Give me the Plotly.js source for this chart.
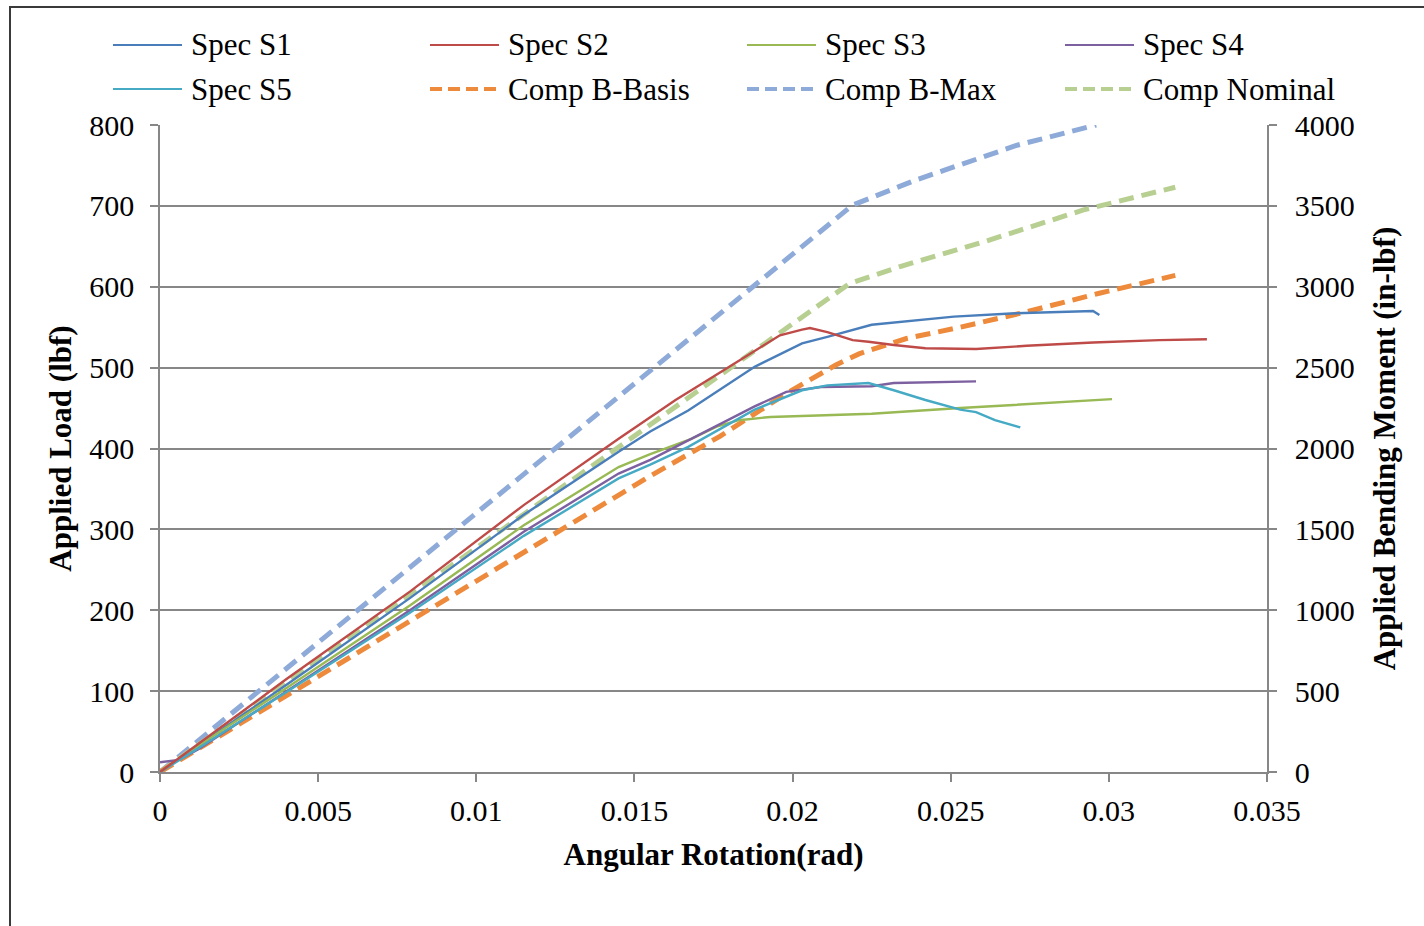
<!DOCTYPE html>
<html>
<head>
<meta charset="utf-8">
<script src="https://cdn.plot.ly/plotly-3.0.1.min.js"></script>
<style>
  html, body { margin: 0; padding: 0; background: #fff; overflow: hidden; }
  #chart { width: 1424px; height: 926px; }
  #frame { position: absolute; left: 9px; top: 6px; width: 3000px; height: 3000px;
           border-left: 2px solid #3a3a3a; border-top: 2px solid #3a3a3a; pointer-events: none; }
</style>
</head>
<body>
<div id="chart"></div>
<div id="frame"></div>
<script>
// ---- Data ----
const seriesNames = ["Spec S1", "Spec S2", "Spec S3", "Spec S4", "Spec S5", "Comp B-Basis", "Comp B-Max", "Comp Nominal"];

const s1X = [0, 0.001, 0.004, 0.0079, 0.0115, 0.0145, 0.0155, 0.0167, 0.0188, 0.0203, 0.0211, 0.0225, 0.0251, 0.0269, 0.0285, 0.0295, 0.0297];
const s1Y = [0, 27, 108, 215, 318, 396, 421, 447, 501, 530, 538, 553, 563, 567, 569, 570, 565];

const s2X = [0, 0.001, 0.004, 0.0079, 0.0115, 0.0145, 0.0155, 0.0163, 0.018, 0.0196, 0.0203, 0.02055, 0.0211, 0.0219, 0.0224, 0.0232, 0.0242, 0.0258, 0.0274, 0.0295, 0.0316, 0.0331];
const s2Y = [0, 29, 115, 223, 330, 412, 439, 460, 501, 540, 547, 549, 544, 534, 532, 528, 524, 523, 527, 531, 534, 535];

const s3X = [0, 0.001, 0.004, 0.0079, 0.0115, 0.0145, 0.0155, 0.0168, 0.0176, 0.0183, 0.0193, 0.0225, 0.0253, 0.0274, 0.0301];
const s3Y = [0, 27, 104, 206, 305, 377, 393, 412, 427, 435, 439, 443, 450, 455, 461];

const s4X = [0, 0.0006, 0.0012, 0.004, 0.0079, 0.0115, 0.0145, 0.0155, 0.0167, 0.0188, 0.0198, 0.0209, 0.0225, 0.0232, 0.0258];
const s4Y = [12, 15, 28, 100, 200, 297, 369, 386, 410, 452, 470, 476, 477, 481, 483];

const s5X = [0, 0.001, 0.004, 0.0079, 0.0115, 0.0145, 0.0155, 0.0167, 0.0188, 0.0203, 0.0211, 0.0224, 0.0232, 0.0242, 0.0253, 0.0258, 0.0264, 0.0272];
const s5Y = [0, 24, 99, 197, 292, 363, 380, 402, 448, 472, 478, 481, 472, 460, 448, 445, 435, 426];

const bBasisX = [0, 0.005, 0.01, 0.0155, 0.0177, 0.0198, 0.0214, 0.0221, 0.0228, 0.0236, 0.0253, 0.0274, 0.0297, 0.0321];
const bBasisY = [0, 118, 237, 366, 415, 468, 504, 517, 526, 536, 550, 569, 592, 614];

const bMaxX = [0, 0.0187, 0.0219, 0.0239, 0.0271, 0.0296];
const bMaxY = [0, 600, 701, 732, 775, 800];

const nominalX = [0, 0.0204, 0.0218, 0.0234, 0.026, 0.0292, 0.0321];
const nominalY = [0, 565, 604, 625, 655, 695, 723];

const xTickVals = [0, 0.005, 0.01, 0.015, 0.02, 0.025, 0.03, 0.035];
const xTickLabels = ["0", "0.005", "0.01", "0.015", "0.02", "0.025", "0.03", "0.035"];
const loadTicks = [0, 100, 200, 300, 400, 500, 600, 700, 800];
const momentTicks = [0, 500, 1000, 1500, 2000, 2500, 3000, 3500, 4000];

// ---- Styles ----
const colors = ["#4A7EBB", "#BE4B48", "#98B954", "#7D60A0", "#46AAC5", "#EE8A3C", "#8EAAD8", "#B8CF92"];
const dashed = [false, false, false, false, false, true, true, true];
const xs = [s1X, s2X, s3X, s4X, s5X, bBasisX, bMaxX, nominalX];
const ys = [s1Y, s2Y, s3Y, s4Y, s5Y, bBasisY, bMaxY, nominalY];

const FONT = "Liberation Serif, Times New Roman, serif";
const GRID = "#878787";

// draw order: comp lines beneath specimen lines
const order = [6, 7, 5, 0, 2, 3, 4, 1];
const traces = order.map(i => ({
  x: xs[i], y: ys[i], name: seriesNames[i], type: "scatter", mode: "lines",
  line: dashed[i] ? {color: colors[i], width: 5, dash: "15px,8px"} : {color: colors[i], width: 2.4},
  showlegend: false, hoverinfo: "x+y+name"
}));
// anchor trace for the secondary (moment) axis
traces.push({x: [null], y: [null], yaxis: "y2", showlegend: false, hoverinfo: "skip", mode: "lines"});

// ---- Legend built by hand (2 rows x 4 columns) ----
const L = 160, R = 1267, T = 125, B = 772;
const pxX = p => (p - L) / (R - L);
const pxY = p => (B - p) / (B - T);
const colText = [189, 506, 823, 1141];
const rowY = [45, 89];
const shapes = [], annotations = [];
seriesNames.forEach((name, i) => {
  const r = Math.floor(i / 4), c = i % 4;
  const tx = colText[c], ty = rowY[r];
  shapes.push({
    type: "line", xref: "paper", yref: "paper",
    x0: pxX(tx - 76), x1: pxX(tx - 7), y0: pxY(ty), y1: pxY(ty),
    line: dashed[i] ? {color: colors[i], width: 4, dash: "12px,6px"} : {color: colors[i], width: 2}
  });
  annotations.push({
    text: name, xref: "paper", yref: "paper", x: pxX(tx), y: pxY(ty),
    xanchor: "left", yanchor: "middle", showarrow: false,
    font: {family: FONT, size: 31, color: "#000"}
  });
});

const tickFont = {family: FONT, size: 30, color: "#000"};
const titleFont = {family: FONT, size: 31, color: "#000", weight: "bold"};

const layout = {
  width: 1424, height: 926,
  margin: {l: L, r: 1424 - R, t: T, b: 926 - B, pad: 0},
  paper_bgcolor: "#fff", plot_bgcolor: "#fff",
  showlegend: false,
  xaxis: {
    range: [0, 0.035], tickvals: xTickVals, ticktext: xTickLabels,
    showgrid: false, zeroline: false, showline: true, linecolor: GRID, linewidth: 1.5,
    ticks: "outside", ticklen: 8, tickcolor: GRID, tickwidth: 1.5, tickfont: tickFont,
    ticklabelstandoff: 3,
    title: {text: "Angular Rotation(rad)", font: titleFont, standoff: 18}
  },
  yaxis: {
    range: [0, 800], tickvals: loadTicks, ticktext: loadTicks.map(String),
    showgrid: true, gridcolor: GRID, gridwidth: 1.5, zeroline: false,
    showline: true, linecolor: GRID, linewidth: 1.5,
    ticks: "outside", ticklen: 8, tickcolor: GRID, tickwidth: 1.5, tickfont: tickFont,
    ticklabelstandoff: 10,
    title: {text: "Applied Load (lbf)", font: titleFont, standoff: 8}
  },
  yaxis2: {
    range: [0, 4000], tickvals: momentTicks, ticktext: momentTicks.map(String),
    overlaying: "y", side: "right", showgrid: false, zeroline: false,
    showline: true, linecolor: GRID, linewidth: 1.5,
    ticks: "outside", ticklen: 8, tickcolor: GRID, tickwidth: 1.5, tickfont: tickFont,
    ticklabelstandoff: 12,
    title: {text: "Applied Bending Moment (in-lbf)", font: titleFont, standoff: 20}
  },
  shapes: shapes,
  annotations: annotations
};

Plotly.newPlot("chart", traces, layout, {displayModeBar: false, responsive: false});
</script>
</body>
</html>
